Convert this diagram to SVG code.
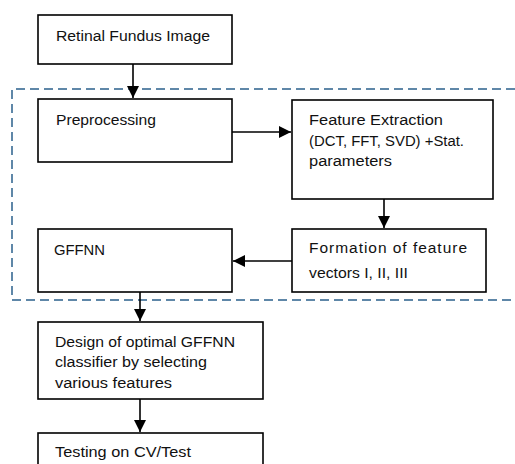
<svg xmlns="http://www.w3.org/2000/svg" width="515" height="464" viewBox="0 0 515 464">
<style>
.box{fill:#fff;stroke:#000;stroke-width:1.6}
.t{font-family:"Liberation Sans",Arial,sans-serif;font-size:15.5px;fill:#111}
.c{stroke:#000;stroke-width:1.6;fill:none}
.dash{fill:none;stroke:#5f87a8;stroke-width:2;stroke-dasharray:9 5}
</style>
<defs>
<marker id="ah" viewBox="0 0 12 12" refX="12" refY="6" markerWidth="12" markerHeight="12" markerUnits="userSpaceOnUse" orient="auto">
<path d="M0,0 L12,6 L0,12 Z" fill="#000"/>
</marker>
</defs>
<rect width="515" height="464" fill="#fff"/>
<g id="region">
<path class="dash" d="M515,89 H12 V300 H515"/>
</g>
<g id="connectors">
<line class="c" x1="133" y1="64" x2="133" y2="98" marker-end="url(#ah)"/>
<line class="c" x1="232" y1="132" x2="291" y2="132" marker-end="url(#ah)"/>
<line class="c" x1="384" y1="199" x2="384" y2="228" marker-end="url(#ah)"/>
<line class="c" x1="292" y1="261" x2="233" y2="261" marker-end="url(#ah)"/>
<line class="c" x1="140" y1="292" x2="140" y2="321" marker-end="url(#ah)"/>
<line class="c" x1="140" y1="399" x2="140" y2="432" marker-end="url(#ah)"/>
</g>
<g id="n1">
<rect class="box" x="38" y="15" width="194" height="49"/>
<text class="t" x="56" y="41" textLength="154" lengthAdjust="spacingAndGlyphs">Retinal Fundus Image</text>
</g>
<g id="n2">
<rect class="box" x="38" y="99" width="194" height="63"/>
<text class="t" x="56" y="125" textLength="100" lengthAdjust="spacingAndGlyphs">Preprocessing</text>
</g>
<g id="n3">
<rect class="box" x="292" y="100" width="201" height="99"/>
<text class="t" x="309" y="125" textLength="134" lengthAdjust="spacingAndGlyphs">Feature Extraction</text>
<text class="t" x="309" y="146" textLength="155" lengthAdjust="spacingAndGlyphs">(DCT, FFT, SVD) +Stat.</text>
<text class="t" x="309" y="166" textLength="83" lengthAdjust="spacingAndGlyphs">parameters</text>
</g>
<g id="n4">
<rect class="box" x="292" y="229" width="194" height="63"/>
<text class="t" x="309" y="253" textLength="158">Formation of feature</text>
<text class="t" x="309" y="278" textLength="99" lengthAdjust="spacingAndGlyphs">vectors I, II, III</text>
</g>
<g id="n5">
<rect class="box" x="38" y="229" width="194" height="63"/>
<text class="t" x="54" y="255" textLength="51" lengthAdjust="spacingAndGlyphs">GFFNN</text>
</g>
<g id="n6">
<rect class="box" x="38" y="322" width="225" height="77"/>
<text class="t" x="55" y="347" textLength="180" lengthAdjust="spacingAndGlyphs">Design of optimal GFFNN</text>
<text class="t" x="55" y="367" textLength="152" lengthAdjust="spacingAndGlyphs">classifier by selecting</text>
<text class="t" x="55" y="388" textLength="117" lengthAdjust="spacingAndGlyphs">various features</text>
</g>
<g id="n7">
<rect class="box" x="38" y="433" width="225" height="40"/>
<text class="t" x="55" y="457" textLength="136" lengthAdjust="spacingAndGlyphs">Testing on CV/Test</text>
</g>
</svg>
